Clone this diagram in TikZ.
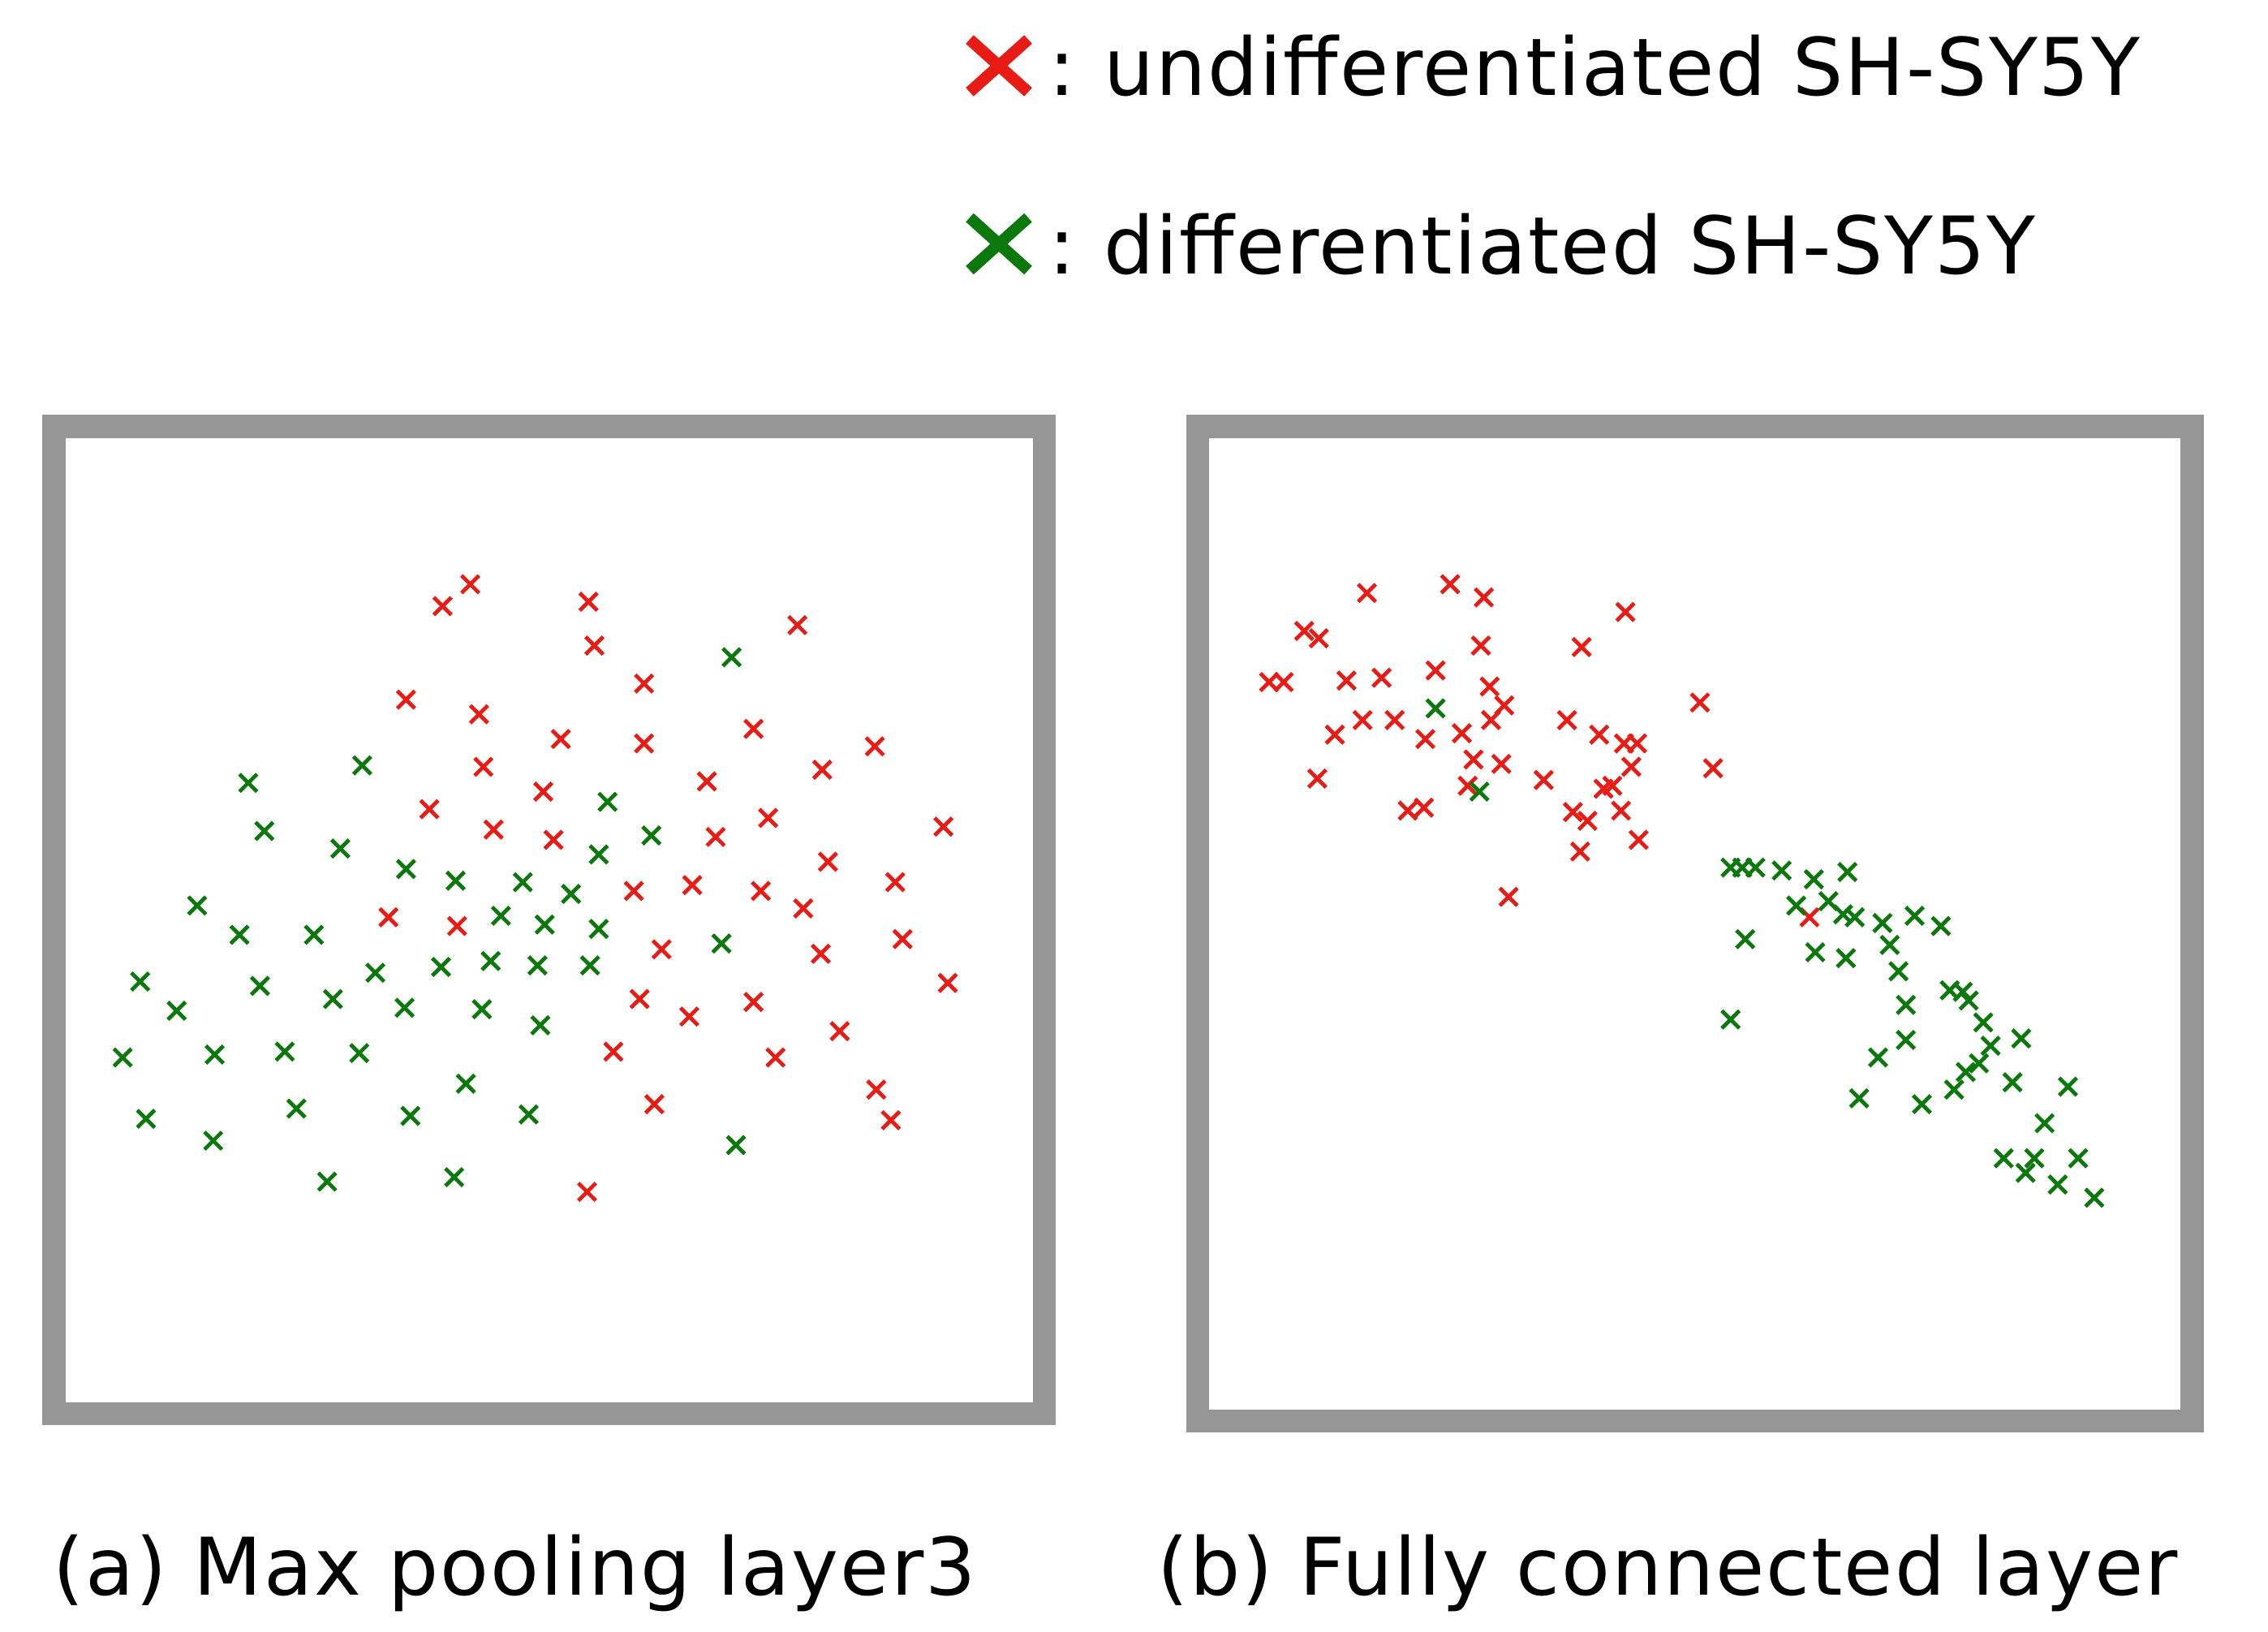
\documentclass[tikz,border=0pt]{standalone}
\usepackage{fontspec}
\setmainfont{DejaVu Sans}[LetterSpace=2]
\begin{document}
\begin{tikzpicture}[x=0.02cm,y=-0.02cm,
  box/.style={draw=boxgray,line width=9pt},
  lbl/.style={font=\fontsize{31}{37}\selectfont,anchor=west,inner sep=0pt},
  xr/.style={draw=xred,line width=1.5pt},
  xg/.style={draw=xgreen,line width=1.5pt}]
\definecolor{xred}{RGB}{232,28,20}
\definecolor{xgreen}{RGB}{10,120,10}
\definecolor{boxgray}{RGB}{150,150,150}
\useasboundingbox (0,0) rectangle (1553,1117);
\def\s{6}
% boxes
\draw[box] (37,292) rectangle (715,968);
\draw[box] (820,292) rectangle (1501,973);
% legend
\draw[draw=xred,line width=4.5pt] (664,27)--(704,63) (664,63)--(704,27);
\draw[draw=xgreen,line width=4.5pt] (664,149)--(704,185) (664,185)--(704,149);
\node[lbl] (l1) at (718,45) {:\hspace{0.35em}undifferentiated SH-SY5Y};
\node[lbl] (l2) at (718,167) {:\hspace{0.35em}differentiated SH-SY5Y};
% captions
\node[lbl] (c1) at (36,1077) {(a) Max pooling layer3};
\node[lbl] (c2) at (792,1077) {(b) Fully connected layer};
% left red
\foreach \x/\y in {303/415,322/400,403/412,407/442,546/428,441/468,278/479,328/489,384/506,441/509,516/499,599/511,331/525,563/527,484/535,372/542,294/554,526/560,338/568,379/575,490/573,646/566,567/590,434/610,474/606,521/610,613/604,550/622,266/628,313/634,618/643,453/650,562/653,649/673,438/684,472/696,516/686,575/706,420/720,531/724,600/746,610/767,448/756,402/816}
  \draw[xr] (\x-\s,\y-\s)--(\x+\s,\y+\s) (\x-\s,\y+\s)--(\x+\s,\y-\s);
% left green
\foreach \x/\y in {501/450,170/536,248/524,181/569,416/549,446/572,233/581,410/585,278/595,312/603,358/604,391/612,135/620,164/640,215/640,343/627,373/633,410/636,494/646,96/672,178/675,257/666,302/662,336/658,368/661,404/661,228/684,121/692,277/690,330/691,370/702,84/724,147/722,195/720,246/721,319/742,100/766,203/759,281/764,362/763,146/781,224/809,311/806,504/784}
  \draw[xg] (\x-\s,\y-\s)--(\x+\s,\y+\s) (\x-\s,\y+\s)--(\x+\s,\y-\s);
% right red
\foreach \x/\y in {936/406,993/400,1016/409,893/432,903/437,1113/419,1014/442,1083/443,869/467,879/467,922/466,946/464,983/459,1020/470,1164/481,1030/483,1021/493,1001/502,933/493,955/493,914/503,976/506,1073/493,1095/503,1112/509,1121/509,1009/520,1028/523,1117/525,1173/526,902/533,1057/534,1005/538,1098/540,1104/538,964/555,975/553,1077/556,1087/562,1110/555,1122/575,1082/583,1033/614,1239/628}
  \draw[xr] (\x-\s,\y-\s)--(\x+\s,\y+\s) (\x-\s,\y+\s)--(\x+\s,\y-\s);
% right green
\foreach \x/\y in {983/485,1013/542,1185/594,1193/594,1202/594,1220/596,1242/602,1265/597,1230/620,1252/617,1262/626,1270/628,1289/632,1311/627,1329/634,1195/643,1243/652,1264/656,1294/647,1300/665,1335/678,1344/679,1348/685,1305/688,1185/698,1358/700,1384/711,1305/712,1363/716,1286/724,1355/728,1346/734,1378/741,1416/744,1338/746,1273/752,1316/756,1400/769,1372/793,1393/793,1423/793,1387/803,1409/811,1434/820}
  \draw[xg] (\x-\s,\y-\s)--(\x+\s,\y+\s) (\x-\s,\y+\s)--(\x+\s,\y-\s);
\end{tikzpicture}
\end{document}
